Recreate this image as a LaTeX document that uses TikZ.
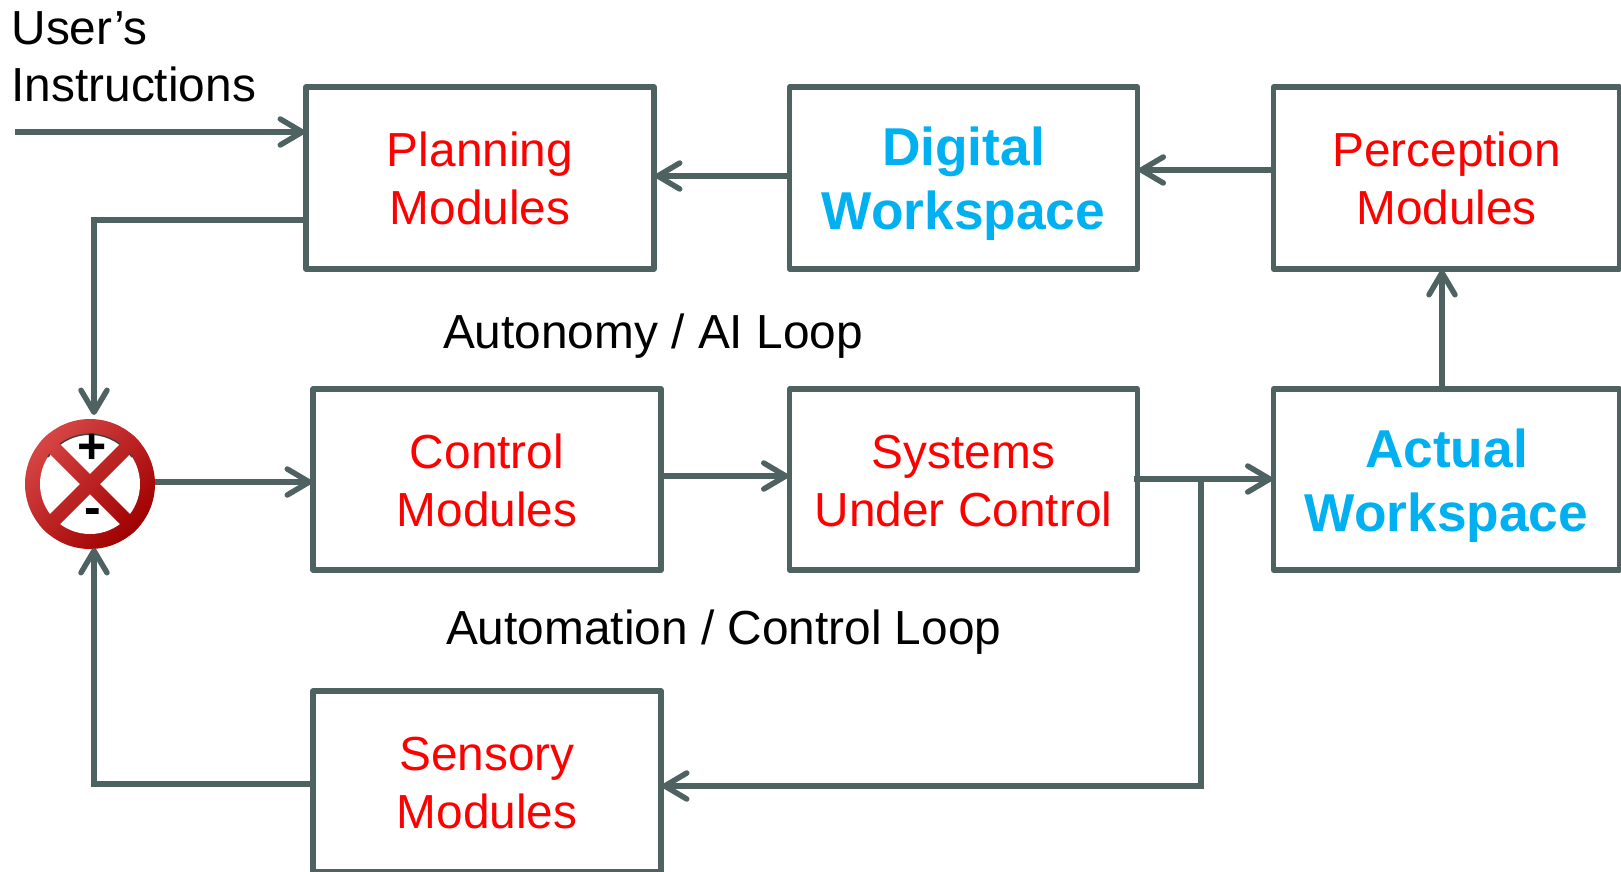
\documentclass[tikz,border=0pt]{standalone}
\usepackage{fontspec}
\setmainfont{Liberation Sans}
\usetikzlibrary{arrows.meta,calc}
\definecolor{wire}{HTML}{4F6262}
\definecolor{modred}{HTML}{FF0000}
\definecolor{wsblue}{HTML}{00B0F0}
\definecolor{ringlight}{HTML}{D64545}
\definecolor{ringdark}{HTML}{A00000}
\newcommand{\redtxt}[2]{\rule{0pt}{48pt}#1\\\rule[-13pt]{0pt}{0pt}#2}
\newcommand{\bluetxt}[2]{\rule{0pt}{51pt}#1\\\rule[-10pt]{0pt}{0pt}#2}
\tikzset{
  modbox/.style={draw=wire,line width=5.3pt,line join=round,rectangle,inner sep=0pt,outer sep=0pt,align=center},
  redbox/.style={modbox,text=modred,font=\fontsize{47.8}{58}\selectfont},
  bluebox/.style={modbox,text=wsblue,font=\fontsize{53.3}{64}\selectfont\bfseries},
  plainlabel/.style={inner sep=0pt,outer sep=0pt,anchor=base west,text=black,font=\fontsize{47.8}{57}\selectfont},
  conn/.style={draw=wire,line width=5.5pt,line join=miter},
  arr/.style={conn,shorten >=1pt,-{Straight Barb[length=22pt,width=26pt,line cap=round,round]}},
  ringfill/.style={top color=ringlight,bottom color=ringdark,shading angle=45}
}
\begin{document}
\begin{tikzpicture}[x=1pt,y=-1pt]
\useasboundingbox (0,0) rectangle (1621,872);
% boxes
\node[redbox,minimum width=348pt,minimum height=182pt] (plan) at (480,178) {\redtxt{Planning}{Modules}};
\node[bluebox,minimum width=348pt,minimum height=182pt] (dig) at (963.5,178) {\bluetxt{Digital}{Workspace}};
\node[redbox,minimum width=346pt,minimum height=182pt] (perc) at (1446.5,178) {\redtxt{Perception}{Modules}};
\node[redbox,minimum width=348pt,minimum height=181pt] (ctrl) at (487,479.5) {\redtxt{Control}{Modules}};
\node[redbox,minimum width=348pt,minimum height=181pt] (sys) at (963.5,479.5) {\redtxt{Systems}{Under Control}};
\node[bluebox,minimum width=346pt,minimum height=181pt] (act) at (1446.5,479.5) {\bluetxt{Actual}{Workspace}};
\node[redbox,minimum width=348pt,minimum height=181pt] (sens) at (487,781.5) {\redtxt{Sensory}{Modules}};
% labels
\node[plainlabel,align=left] (user) at (11.5,102) {User’s\\Instructions};
\node[plainlabel] (ailoop) at (443,348) {Autonomy / AI Loop};
\node[plainlabel] (ctlloop) at (446,644) {Automation / Control Loop};
% summing junction
\node[circle,minimum size=130pt,inner sep=0pt,outer sep=0pt] (sum) at (90,484) {};
\begin{scope}[shift={(sum)}]
  \shade[ringfill] (0,0) circle[radius=65];
  \fill[white] (0,0) circle[radius=50];
  \draw[black!75,line width=1.5pt] (-42,-27) arc[start angle=213,end angle=327,radius=50];
  \begin{scope}
    \clip (-54,-44) -- (-44,-54) -- (54,44) -- (44,54) -- cycle
          (-44,54) -- (-54,44) -- (44,-54) -- (54,-44) -- cycle;
    \shade[ringfill] (0,0) circle[radius=65];
  \end{scope}
  \node[inner sep=0pt,font=\fontsize{50}{50}\selectfont\bfseries] (plus) at (2,-35) {+};
  \node[inner sep=0pt,font=\fontsize{50}{50}\selectfont\bfseries] (minus) at (3,33) {-};
\end{scope}
% connector free ends
\coordinate (userstart) at (15,132);
\coordinate (sumtop) at (94,416);
\coordinate (sumbot) at (94,547);
\coordinate (branch) at (1201,479);
% connectors
\draw[arr] (userstart) -- (plan.west |- userstart);
\draw[arr] ($(plan.west |- 0,220)+(-3,0)$) -| (sumtop);
\draw[arr] (sens.west |- 0,784) -| (sumbot);
\draw[arr] (sum.east |- 0,482) -- (ctrl.west |- 0,482);
\draw[arr] (dig.west |- 0,176) -- (plan.east |- 0,176);
\draw[arr] (perc.west |- 0,170) -- (dig.east |- 0,170);
\draw[arr] (ctrl.east |- 0,476) -- (sys.west |- 0,476);
\draw[arr] ($(sys.east |- 0,479)+(-4,0)$) -- (act.west |- 0,479);
\draw[arr] (branch) |- (sens.east |- 0,786);
\draw[arr] (act.north -| 1442,0) -- (perc.south -| 1442,0);
\end{tikzpicture}
\end{document}
